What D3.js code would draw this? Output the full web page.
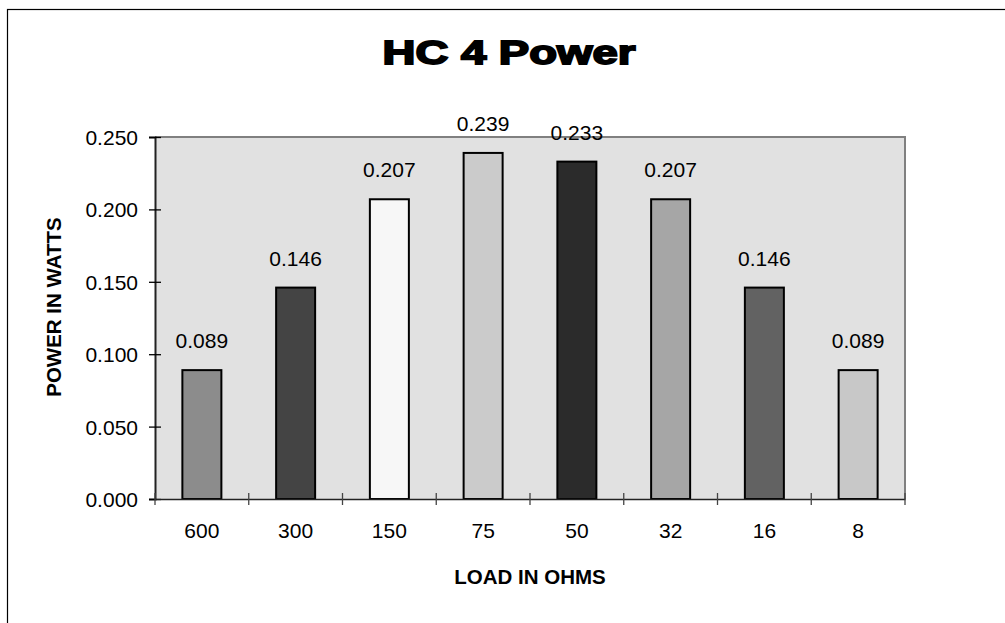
<!DOCTYPE html>
<html>
<head>
<meta charset="utf-8">
<script src="https://cdn.jsdelivr.net/npm/d3@7"></script>
<style>
    body { margin: 0; background: #fff; }
    .chart text { font-family: "Liberation Sans", Arial, sans-serif; fill: #000; }
</style>
</head>
<body>
<div class="chart"></div>
<script>
'use strict';

/*---------------------------------------------------------------
data
---------------------------------------------------------------*/
var loads = ['600', '300', '150', '75', '50', '32', '16', '8'];
var watts = [0.089, 0.146, 0.207, 0.239, 0.233, 0.207, 0.146, 0.089];
var barColors = ['#8c8c8c', '#444444', '#f7f7f7', '#cbcbcb', '#2b2b2b', '#a6a6a6', '#626262', '#c8c8c8'];
var yTicks = [0, 0.05, 0.1, 0.15, 0.2, 0.25];

/*---------------------------------------------------------------
set width + height
---------------------------------------------------------------*/
var w = 1005,
    h = 623,
    plot = { left: 155, top: 137, right: 905, bottom: 499 };

var svg = d3.select('.chart')
    .append('svg')
    .attr('width', w)
    .attr('height', h);

// outer frame (runs off the right + bottom edge)
svg.append('rect')
    .attr('x', 7.5)
    .attr('y', 9.5)
    .attr('width', 1200)
    .attr('height', 800)
    .attr('fill', '#fff')
    .attr('stroke', '#000')
    .attr('stroke-width', 1.2);

/*---------------------------------------------------------------
scales
---------------------------------------------------------------*/
var x = d3.scaleBand()
    .domain(loads)
    .range([plot.left, plot.right])
    .paddingInner(0.584)
    .paddingOuter(0.292);

var xBand = d3.scaleBand()
    .domain(loads)
    .range([plot.left, plot.right]);

var y = d3.scaleLinear()
    .domain([0, 0.25])
    .range([plot.bottom, plot.top]);

/*---------------------------------------------------------------
plot area
---------------------------------------------------------------*/
svg.append('rect')
    .attr('x', plot.left)
    .attr('y', plot.top)
    .attr('width', plot.right - plot.left)
    .attr('height', plot.bottom - plot.top)
    .attr('fill', '#e1e1e1');

svg.append('path')
    .attr('d', 'M' + plot.left + ',' + plot.top + 'H' + plot.right + 'V' + plot.bottom)
    .attr('fill', 'none')
    .attr('stroke', '#808080')
    .attr('stroke-width', 2);

/*---------------------------------------------------------------
bars
---------------------------------------------------------------*/
svg.selectAll('rect.bar')
    .data(watts)
    .enter()
    .append('rect')
    .attr('class', 'bar')
    .attr('x', function(d, i) { return x(loads[i]); })
    .attr('y', function(d) { return y(d); })
    .attr('width', x.bandwidth())
    .attr('height', function(d) { return y(0) - y(d); })
    .attr('fill', function(d, i) { return barColors[i]; })
    .attr('stroke', '#000')
    .attr('stroke-width', 2);

// value labels
svg.selectAll('text.val')
    .data(watts)
    .enter()
    .append('text')
    .attr('class', 'val')
    .attr('x', function(d, i) { return x(loads[i]) + x.bandwidth() / 2; })
    .attr('y', function(d) { return y(d) - 22; })
    .attr('text-anchor', 'middle')
    .attr('font-size', 21)
    .text(function(d) { return d3.format('.3f')(d); });

/*---------------------------------------------------------------
axes
---------------------------------------------------------------*/
var yAxis = svg.append('g')
    .attr('transform', 'translate(' + plot.left + ',0)')
    .call(d3.axisLeft(y)
        .tickValues(yTicks)
        .tickSize(6)
        .tickPadding(11)
        .tickFormat(d3.format('.3f')));

yAxis.select('.domain').attr('stroke', '#222').attr('stroke-width', 2);
yAxis.selectAll('.tick line').attr('x2', 6).attr('x1', -6).attr('stroke', '#000').attr('stroke-width', 1.3);
yAxis.selectAll('.tick text').attr('font-size', 21).attr('dy', '0.36em');

var xAxis = svg.append('g')
    .attr('transform', 'translate(0,' + plot.bottom + ')')
    .call(d3.axisBottom(xBand).tickSize(0).tickPadding(24));

xAxis.select('.domain').attr('stroke', '#222').attr('stroke-width', 1.5);
xAxis.selectAll('.tick text').attr('font-size', 21);

// category boundary ticks
svg.selectAll('line.xtick')
    .data(loads.concat(['end']))
    .enter()
    .append('line')
    .attr('class', 'xtick')
    .attr('x1', function(d, i) { return i < loads.length ? xBand(d) : plot.right; })
    .attr('x2', function(d, i) { return i < loads.length ? xBand(d) : plot.right; })
    .attr('y1', plot.bottom - 6)
    .attr('y2', plot.bottom + 6)
    .attr('stroke', '#444')
    .attr('stroke-width', 1.3);

/*---------------------------------------------------------------
titles
---------------------------------------------------------------*/
svg.append('text')
    .attr('transform', 'translate(509,64) scale(1.38,1)')
    .attr('text-anchor', 'middle')
    .attr('font-size', 33)
    .attr('font-weight', 'bold')
    .attr('stroke', '#000')
    .attr('stroke-width', 1.8)
    .text('HC 4 Power');

svg.append('text')
    .attr('x', 530)
    .attr('y', 584)
    .attr('text-anchor', 'middle')
    .attr('font-size', 20.5)
    .attr('font-weight', 'bold')
    .text('LOAD IN OHMS');

svg.append('text')
    .attr('transform', 'translate(61,307) rotate(-90)')
    .attr('text-anchor', 'middle')
    .attr('font-size', 20.5)
    .attr('font-weight', 'bold')
    .text('POWER IN WATTS');
</script>
</body>
</html>
